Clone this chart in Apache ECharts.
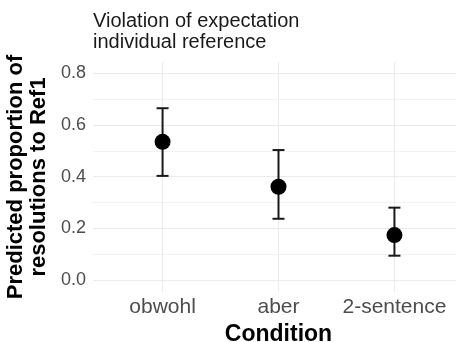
<!DOCTYPE html>
<html>
<head>
<meta charset="utf-8">
<script src="https://cdn.jsdelivr.net/npm/echarts@6/dist/echarts.min.js"></script>
<style>html,body{margin:0;padding:0;background:#fff}#c{width:456px;height:342px}</style>
</head>
<body>
<div id="c"></div>
<script>
const categories = ['obwohl', 'aber', '2-sentence'];
const estimates = [0.535, 0.361, 0.174];
const lower = [0.403, 0.237, 0.094];
const upper = [0.665, 0.503, 0.280];
const majorTicks = [0.0, 0.2, 0.4, 0.6, 0.8];
const minorTicks = [0.1, 0.3, 0.5, 0.7];
const titleText = 'Violation of expectation\nindividual reference';
const yTitle = 'Predicted proportion of\nresolutions to Ref1';
const xTitle = 'Condition';

const FONT = '"Liberation Sans", Arial, sans-serif';
const catIdx = categories.map((c, i) => i);
const yMin = -0.0465, yMax = 0.8439;

const chart = echarts.init(document.getElementById('c'), null, {renderer: 'canvas'});
chart.setOption({
  animation: false,
  backgroundColor: '#fff',
  title: {
    text: titleText,
    left: 93, top: 11, padding: 0,
    textStyle: {fontFamily: FONT, fontSize: 20, fontWeight: 'normal', color: '#1a1a1a', lineHeight: 21}
  },
  grid: {left: 93, top: 62, width: 371, height: 230, containLabel: false, outerBoundsMode: 'none'},
  xAxis: {
    type: 'value', min: -0.6, max: 2.6,
    axisLine: {show: false},
    axisTick: {show: false, customValues: catIdx},
    axisLabel: {
      customValues: catIdx, margin: 5,
      formatter: v => categories[Math.round(v)],
      fontFamily: FONT, fontSize: 21, color: '#4d4d4d'
    },
    splitLine: {show: true, lineStyle: {color: '#ebebeb', width: 1}},
    name: xTitle, nameLocation: 'middle', nameGap: 27,
    nameTextStyle: {fontFamily: FONT, fontSize: 23, fontWeight: 'bold', color: '#000'}
  },
  yAxis: [{
    type: 'value', min: yMin, max: yMax,
    axisLine: {show: false},
    axisTick: {show: false, customValues: majorTicks},
    axisLabel: {
      customValues: majorTicks, margin: 7,
      formatter: v => v.toFixed(1),
      fontFamily: FONT, fontSize: 18, color: '#4d4d4d'
    },
    splitLine: {show: true, lineStyle: {color: '#ebebeb', width: 1}},
    name: yTitle, nameLocation: 'middle', nameGap: 36, nameRotate: 90,
    nameTextStyle: {fontFamily: FONT, fontSize: 22, fontWeight: 'bold', color: '#000', lineHeight: 23}
  }, {
    type: 'value', min: yMin, max: yMax, position: 'left',
    axisLine: {show: false},
    axisTick: {show: false, customValues: minorTicks},
    axisLabel: {show: false, customValues: minorTicks},
    splitLine: {show: true, lineStyle: {color: '#f2f2f2', width: 1}}
  }],
  series: [{
    type: 'custom',
    data: catIdx.map(i => [i, lower[i], upper[i]]),
    renderItem: function (params, api) {
      const x = api.value(0);
      const lo = api.coord([x, api.value(1)]);
      const hi = api.coord([x, api.value(2)]);
      const half = 6;
      const st = {stroke: '#1a1a1a', lineWidth: 2, fill: 'none'};
      return {type: 'group', children: [
        {type: 'line', shape: {x1: lo[0], y1: lo[1], x2: hi[0], y2: hi[1]}, style: st},
        {type: 'line', shape: {x1: hi[0] - half, y1: hi[1], x2: hi[0] + half, y2: hi[1]}, style: st},
        {type: 'line', shape: {x1: lo[0] - half, y1: lo[1], x2: lo[0] + half, y2: lo[1]}, style: st}
      ]};
    },
    z: 2
  }, {
    type: 'scatter',
    data: catIdx.map(i => [i, estimates[i]]),
    symbol: 'circle', symbolSize: 16,
    itemStyle: {color: '#000', opacity: 1},
    z: 3
  }]
});
</script>
</body>
</html>
